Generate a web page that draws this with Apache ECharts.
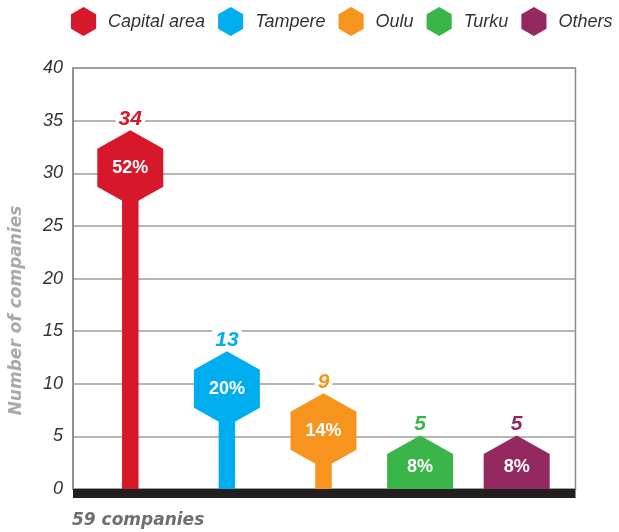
<!DOCTYPE html>
<html>
<head>
<meta charset="utf-8">
<script src="https://cdn.jsdelivr.net/npm/echarts@6/dist/echarts.min.js"></script>
<style>html,body{margin:0;padding:0;background:#fff}#c{width:619px;height:532px}</style>
</head>
<body>
<div id="c"></div>
<script>
const categories = ['Capital area', 'Tampere', 'Oulu', 'Turku', 'Others'];
const counts = [34, 13, 9, 5, 5];
const shares = [52, 20, 14, 8, 8];
const colors = ['#d7182a', '#00aeef', '#f7941d', '#39b54a', '#93295f'];
const yTicks = [0, 5, 10, 15, 20, 25, 30, 35, 40];
const totalLabel = '59 companies';

const hexIcon = 'path://M50,0 L93.3,25 L93.3,75 L50,100 L6.7,75 L6.7,25 Z';

function renderHex(params, api) {
  const idx = api.value(0);
  const val = api.value(1);
  const share = api.value(2);
  const p = api.coord([idx, val]);
  const base = api.coord([idx, 0]);
  const cx = p[0];
  const ty = p[1] - 1;
  const hw = 33, h = 75, s1 = 18.5, s2 = 56.5;
  const color = colors[idx];
  const cs = params.coordSys;
  const axisY = cs.y + cs.height;
  const bottom = ty + h;
  const textY = bottom > axisY ? (ty + axisY) / 2 + 5 : ty + h / 2;
  return {
    type: 'group',
    children: [
      { type: 'rect', shape: { x: cx - 8.25, y: ty + 40, width: 16.5, height: Math.max(0, base[1] - (ty + 40)) }, style: { fill: color } },
      { type: 'polygon', shape: { points: [[cx, ty], [cx + hw, ty + s1], [cx + hw, ty + s2], [cx, ty + h], [cx - hw, ty + s2], [cx - hw, ty + s1]] }, style: { fill: color } },
      { type: 'text', x: cx, y: textY, style: { text: share + '%', fill: '#ffffff', fontFamily: 'Liberation Sans', fontWeight: 'bold', fontSize: 18, align: 'center', verticalAlign: 'middle' } },
      { type: 'text', x: cx, y: ty - 11, style: { text: String(val), fill: color, backgroundColor: '#ffffff', padding: [0, 3], fontFamily: 'Liberation Sans', fontWeight: 'bold', fontStyle: 'italic', fontSize: 21, align: 'center', verticalAlign: 'middle' } }
    ]
  };
}

const series = categories.map((name, i) => ({
  name: name,
  type: 'custom',
  xAxisIndex: 1,
  yAxisIndex: 1,
  clip: true,
  itemStyle: { color: colors[i] },
  encode: { x: 0, y: 1 },
  renderItem: renderHex,
  data: [[i, counts[i], shares[i]]],
  z: 3
}));

const chart = echarts.init(document.getElementById('c'), null, { renderer: 'canvas' });
chart.setOption({
  animation: false,
  backgroundColor: '#ffffff',
  color: colors,
  title: {
    text: totalLabel,
    left: 72,
    top: 512,
    padding: 0,
    textStyle: { fontFamily: 'DejaVu Sans', fontWeight: 'bold', fontStyle: 'italic', fontSize: 17, color: '#6d6e71' }
  },
  legend: {
    left: 71,
    top: 7,
    padding: 0,
    itemWidth: 27,
    itemHeight: 29,
    itemGap: 13,
    icon: hexIcon,
    data: categories,
    textStyle: { fontFamily: 'Liberation Sans', fontStyle: 'italic', fontSize: 18, color: '#333333', padding: [0, 0, 0, 6] }
  },
  grid: [
    { left: 73, right: 43.5, top: 68, bottom: 43, show: true, borderColor: '#8a8a8a', borderWidth: 1.5 },
    { left: 82, right: 54, top: 68, bottom: 43 }
  ],
  xAxis: [
    { gridIndex: 0, type: 'value', min: 0, max: 1, offset: 4.5, position: 'bottom',
      axisLine: { show: true, onZero: false, lineStyle: { color: '#231f20', width: 9, cap: 'butt' } },
      axisTick: { show: false }, axisLabel: { show: false }, splitLine: { show: false } },
    { gridIndex: 1, type: 'category', data: categories, show: false }
  ],
  yAxis: [
    { gridIndex: 0, type: 'value', min: 0, max: 40, interval: 5,
      name: 'Number of companies', nameLocation: 'middle', nameGap: 48,
      nameTextStyle: { fontFamily: 'DejaVu Sans', fontWeight: 'bold', fontStyle: 'italic', fontSize: 17, color: '#a7a9ac', padding: [0, 64, 0, 0] },
      axisLine: { show: true, lineStyle: { color: '#8a8a8a', width: 1.5 } },
      axisTick: { show: false },
      axisLabel: { margin: 10, fontFamily: 'Liberation Sans', fontStyle: 'italic', fontSize: 18, color: '#333333',
        formatter: v => yTicks.includes(v) ? String(v) : '' },
      splitLine: { show: true, lineStyle: { color: '#9d9d9d', width: 1.5 } } },
    { gridIndex: 1, type: 'value', min: 0, max: 40, show: false }
  ],
  series: series
});
</script>
</body>
</html>
